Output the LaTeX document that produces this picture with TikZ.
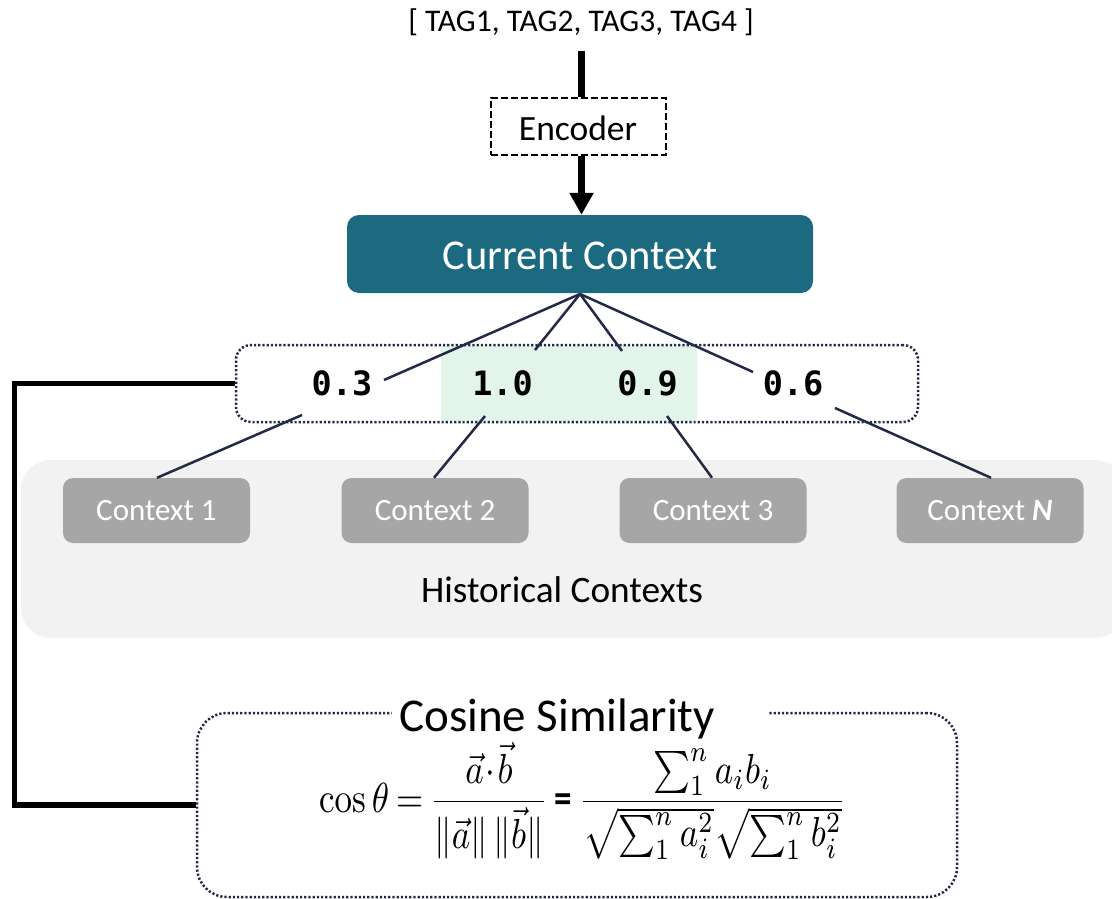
\documentclass[tikz,border=0pt]{standalone}
\usepackage{graphicx}
\usepackage[no-math]{fontspec}
\setmainfont{Carlito}
\setmonofont{DejaVu Sans Mono}
\usetikzlibrary{arrows.meta}
\definecolor{tealbox}{HTML}{1B6A80}
\definecolor{ctxgray}{HTML}{A6A6A6}
\definecolor{bggray}{HTML}{F2F2F2}
\definecolor{hlgreen}{HTML}{E3F5EB}
\definecolor{navy}{HTML}{222A45}
\tikzset{
  fs/.style={font=\fontsize{#1}{#1}\selectfont},
  ctxbox/.style={fill=ctxgray, rounded corners=10pt, minimum width=187pt, minimum height=65pt, inner sep=0pt, text=white, fs=31},
  score/.style={font=\fontsize{33.5}{34}\selectfont\ttfamily\bfseries, anchor=base, inner sep=0pt},
  link/.style={navy, line width=2.5pt},
  dotbox/.style={draw=navy, line width=2.5pt, dash pattern=on 2.2pt off 2pt},
  thickline/.style={line width=5.5pt, black},
}
\begin{document}
\begin{tikzpicture}[x=1pt,y=-1pt]
\useasboundingbox (0,0) rectangle (1112,899);
% input tags
\node[fs=31.5, anchor=base, inner sep=0pt] (tags) at (581,32) {[ TAG1, TAG2, TAG3, TAG4 ]};
% encoder
\node[draw=black, line width=2pt, dash pattern=on 7pt off 3pt, minimum width=175pt, minimum height=57pt, inner sep=0pt] (enc) at (578.5,126.5) {};
\node[fs=35.5, anchor=base, inner sep=0pt] (enctext) at (578,140) {Encoder};
\coordinate (tagbot) at (581.5,51);
\draw[line width=6.5pt] (tagbot) -- (enc.north -| tagbot);
% current context
\node[fill=tealbox, rounded corners=12pt, minimum width=466pt, minimum height=78pt, inner sep=0pt] (cur) at (580,254) {};
\node[fs=42.5, text=white, anchor=base, inner sep=0pt] (curtext) at (580,269) {Current Context};
\draw[line width=6.5pt, -{Triangle[length=22pt,width=23pt]}] (enc.south -| tagbot) -- (cur.north -| tagbot);
% historical contexts background
\node[fill=bggray, rounded corners=30pt, minimum width=1104pt, minimum height=178pt, inner sep=0pt] (hist) at (573,549) {};
\node[fs=37.3, anchor=base, inner sep=0pt] (histtext) at (562,602) {Historical Contexts};
% context boxes
\node[ctxbox] (c1) at (156.5,510.5) {Context 1};
\node[ctxbox] (c2) at (435,510.5) {Context 2};
\node[ctxbox] (c3) at (713,510.5) {Context 3};
\node[ctxbox] (cn) at (990,510.5) {Context \textbf{\textit{N}}};
% score box
\fill[hlgreen] (441,346) rectangle (697,421);
\node[dotbox, rounded corners=15pt, minimum width=682pt, minimum height=77pt, inner sep=0pt] (scores) at (577,383.5) {};
\node[score] (s1) at (342,395) {0.3};
\node[score] (s2) at (502.5,395) {1.0};
\node[score] (s3) at (647.5,395) {0.9};
\node[score] (s4) at (793,395) {0.6};
% links from current context
\coordinate (apex) at (580,294);
\coordinate (t1) at (384,380);
\coordinate (t2) at (535,350);
\coordinate (t3) at (622,351);
\coordinate (t4) at (753,372);
\foreach \t in {t1,t2,t3,t4} \draw[link] (apex) -- (\t);
% links to historical contexts
\coordinate (b1) at (302,415);
\coordinate (b2) at (485,416);
\coordinate (b3) at (667,416);
\coordinate (b4) at (835,408);
\draw[link] (b1) -- (c1.north -| 157,0);
\draw[link] (b2) -- (c2.north -| 434,0);
\draw[link] (b3) -- (c3.north -| 712,0);
\draw[link] (b4) -- (cn.north -| 991,0);
% cosine similarity box
\node[dotbox, rounded corners=30pt, minimum width=760pt, minimum height=184pt, inner sep=0pt] (cosbox) at (577,805) {};
\fill[white] (392,700) rectangle (768,724);
\node[fs=47, anchor=base west, inner sep=0pt] (costitle) at (399,731) {Cosine Similarity};
\node[anchor=base west, inner sep=0pt] (formula) at (319,812)
 {\scalebox{3.5}[4.2]{$\thickmuskip=3.5mu\medmuskip=1mu\displaystyle \cos\theta = \frac{\vec{a}\cdot\vec{b}}{\|\vec{a}\|\,\|\vec{b}\|} \mathrel{\mbox{\bfseries =}} \frac{\sum_1^n a_i b_i}{\sqrt{\sum_1^n a_i^2}\sqrt{\sum_1^n b_i^2}}$}};
% connector score box to cosine box
\coordinate (lx) at (14.5,0);
\draw[thickline] (scores.west) -- (scores.west -| lx) -- (cosbox.west -| lx) -- (cosbox.west);
\end{tikzpicture}
\end{document}
